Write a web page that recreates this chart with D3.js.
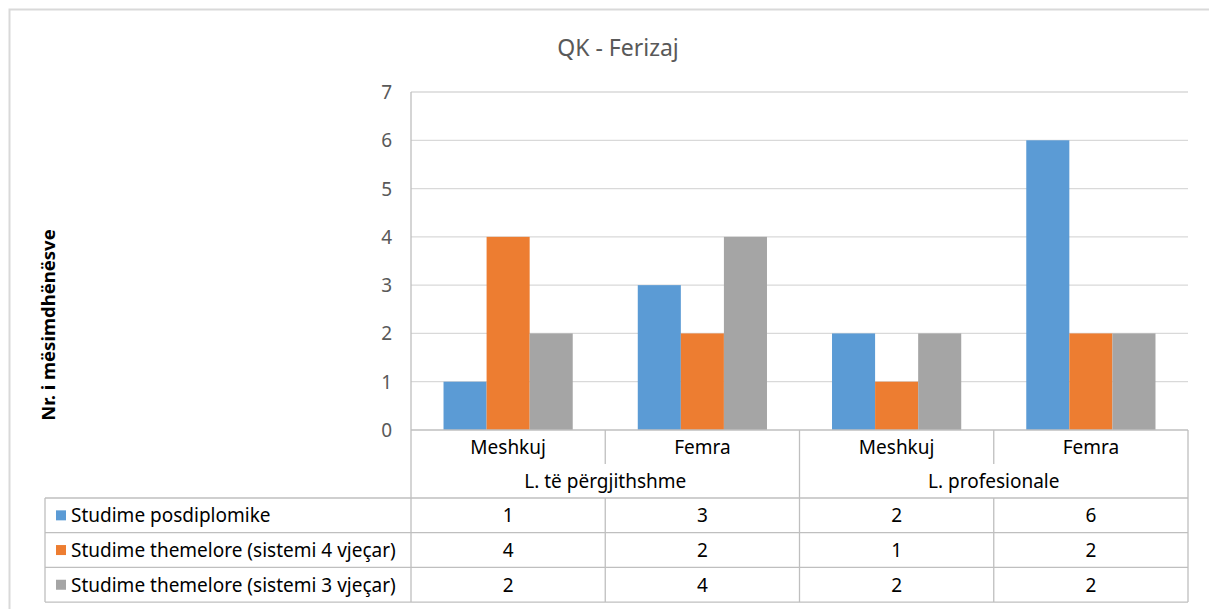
<!DOCTYPE html>
<meta charset="utf-8">
<style>
body { margin: 0; background: #fff; }
text { font-family: "Noto Sans", "Open Sans", sans-serif; }
</style>
<body>
<script src="https://cdn.jsdelivr.net/npm/d3@7"></script>
<script>

let categories = ['Meshkuj', 'Femra', 'Meshkuj', 'Femra'];
let groups = ['L. të përgjithshme', 'L. profesionale'];
let seriesNames = ['Studime posdiplomike', 'Studime themelore (sistemi 4 vjeçar)', 'Studime themelore (sistemi 3 vjeçar)'];
let posdiplomike = [1, 3, 2, 6];
let themelore4 = [4, 2, 1, 2];
let themelore3 = [2, 4, 2, 2];
let yTicks = [0, 1, 2, 3, 4, 5, 6, 7];

let series = [posdiplomike, themelore4, themelore3];
let colors = ['#5B9BD5', '#ED7D31', '#A5A5A5'];

let width = 1209, height = 609;
let plotL = 411, plotR = 1188, plotT = 92, plotB = 430;
let tableTop = 498, rowH = 34.7, tableLeft = 45;
let fs = '19px';

let svg = d3.select('body').append('svg')
	.attr('width', width)
	.attr('height', height);

// chart border
svg.append('rect')
	.attr('x', 9.5).attr('y', 9.5)
	.attr('width', width).attr('height', height)
	.attr('fill', 'none').attr('stroke', '#d9d9d9').attr('stroke-width', 2);

let x0 = d3.scaleBand().domain(d3.range(categories.length)).range([plotL, plotR]);
let x1 = d3.scaleBand().domain(d3.range(series.length)).range([0, x0.bandwidth()]).paddingOuter(0.755);
let y = d3.scaleLinear().domain([0, 7]).range([plotB, plotT]);

// gridlines
svg.append('g').selectAll('line').data(yTicks.slice(1)).enter().append('line')
	.attr('x1', plotL).attr('x2', plotR)
	.attr('y1', d => y(d)).attr('y2', d => y(d))
	.attr('stroke', '#d9d9d9').attr('stroke-width', 1.3);

// y tick labels
svg.append('g').selectAll('text').data(yTicks).enter().append('text')
	.attr('x', 392).attr('y', d => y(d) + 7)
	.attr('text-anchor', 'end')
	.attr('fill', '#595959').style('font-size', fs)
	.text(d => d);

// bars
series.forEach((vals, s) => {
	svg.append('g').selectAll('rect').data(vals).enter().append('rect')
		.attr('x', (d, i) => x0(i) + x1(s))
		.attr('width', x1.bandwidth())
		.attr('y', d => y(d))
		.attr('height', d => y(0) - y(d))
		.attr('fill', colors[s]);
});

let lineColor = '#bfbfbf';
let ln = (ax, ay, bx, by) => svg.append('line')
	.attr('x1', ax).attr('y1', ay).attr('x2', bx).attr('y2', by)
	.attr('stroke', lineColor).attr('stroke-width', 1.3);

// axes
ln(plotL, plotT, plotL, tableTop);
ln(plotL, plotB, plotR, plotB);

// category separators
categories.forEach((c, i) => {
	let xr = x0(i) + x0.bandwidth();
	if (i % 2 == 0) ln(xr, plotB, xr, plotB + 34);
	else ln(xr, plotB, xr, tableTop);
});

// category labels
svg.append('g').selectAll('text').data(categories).enter().append('text')
	.attr('x', (d, i) => x0(i) + x0.bandwidth() / 2)
	.attr('y', plotB + 24)
	.attr('text-anchor', 'middle')
	.attr('fill', '#000').style('font-size', fs)
	.text(d => d);

svg.append('g').selectAll('text').data(groups).enter().append('text')
	.attr('x', (d, i) => x0(i * 2) + x0.bandwidth())
	.attr('y', plotB + 58)
	.attr('text-anchor', 'middle')
	.attr('fill', '#000').style('font-size', fs)
	.text(d => d);

// data table
let tableBottom = tableTop + rowH * series.length;
for (let r = 0; r <= series.length; r++) {
	ln(tableLeft, tableTop + r * rowH, plotR, tableTop + r * rowH);
}
ln(tableLeft, tableTop, tableLeft, tableBottom);
ln(plotL, tableTop, plotL, tableBottom);
categories.forEach((c, i) => {
	let xr = x0(i) + x0.bandwidth();
	ln(xr, tableTop, xr, tableBottom);
});

series.forEach((vals, s) => {
	let ty = tableTop + s * rowH;
	svg.append('rect')
		.attr('x', 56).attr('y', ty + rowH / 2 - 5)
		.attr('width', 10).attr('height', 10)
		.attr('fill', colors[s]);
	svg.append('text')
		.attr('x', 71).attr('y', ty + rowH / 2 + 7)
		.attr('fill', '#000').style('font-size', fs)
		.text(seriesNames[s]);
	svg.append('g').selectAll('text').data(vals).enter().append('text')
		.attr('x', (d, i) => x0(i) + x0.bandwidth() / 2)
		.attr('y', ty + rowH / 2 + 7)
		.attr('text-anchor', 'middle')
		.attr('fill', '#000').style('font-size', fs)
		.text(d => d);
});

// title
svg.append('text')
	.attr('x', 618).attr('y', 56)
	.attr('text-anchor', 'middle')
	.attr('fill', '#595959').style('font-size', '23px')
	.text('QK - Ferizaj');

// y axis title
svg.append('text')
	.attr('transform', 'translate(55,' + 325 + ') rotate(-90)')
	.attr('text-anchor', 'middle')
	.attr('fill', '#000').style('font-size', '18.5px').style('font-weight', 'bold')
	.text('Nr. i mësimdhënësve');

</script>
</body>
